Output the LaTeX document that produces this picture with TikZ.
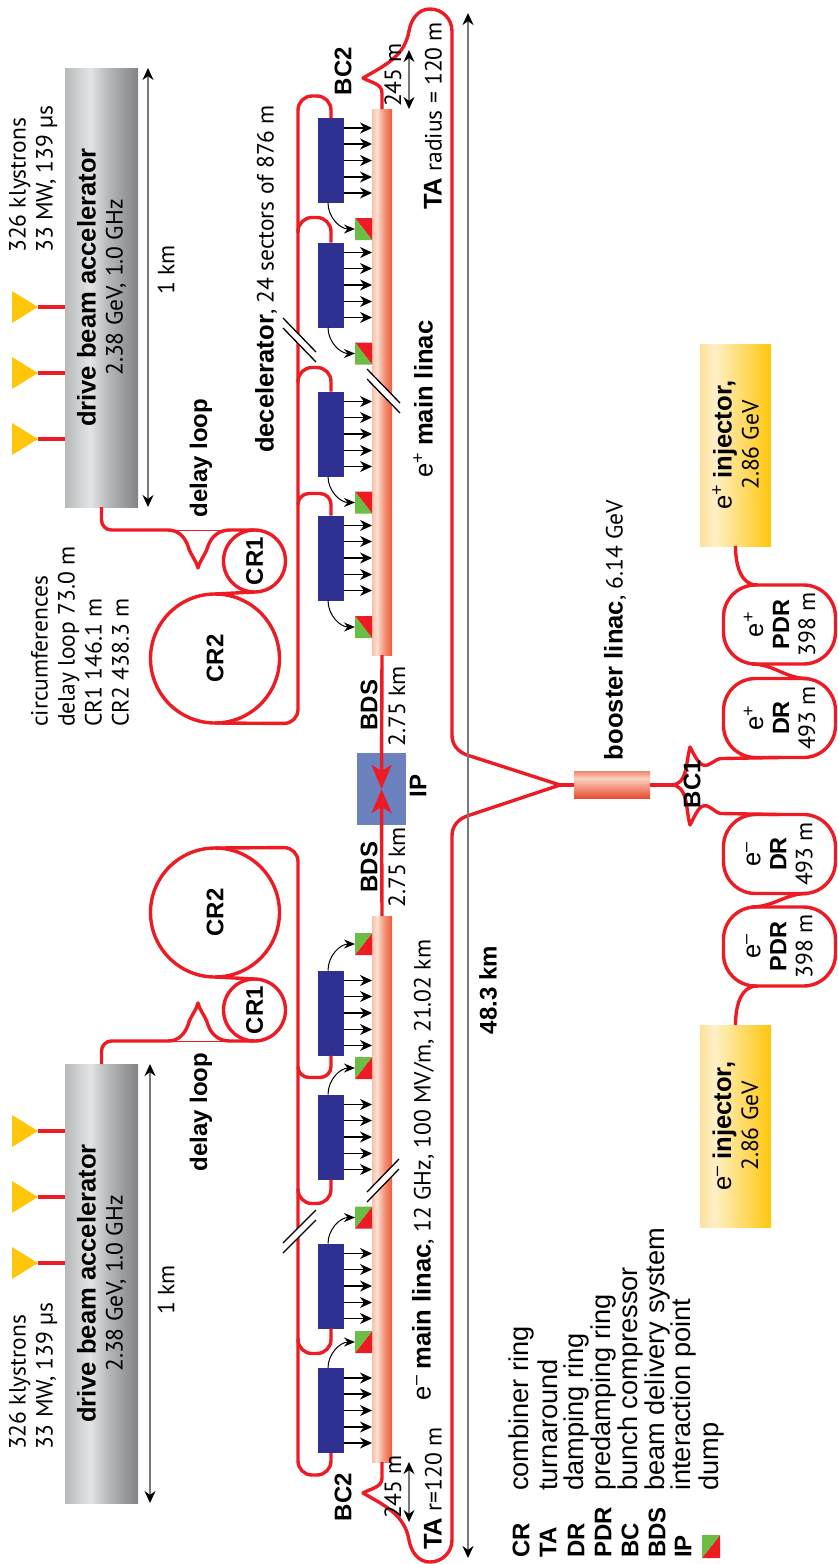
\documentclass[tikz,border=0pt]{standalone}
\usepackage{fontspec}
\setmainfont{PT Sans}
\newfontfamily\lblfont{Liberation Sans}
\usepackage{xcolor}
\usepackage{tikz}
\usetikzlibrary{
  shapes.geometric,
  arrows.meta
}
\definecolor{beamred}{RGB}{237, 28, 36}
\definecolor{pets}{RGB}{46, 49, 146}
\definecolor{dumpgreen}{RGB}{106, 189, 69}
\definecolor{klygold}{RGB}{255, 198, 11}
\definecolor{ipblue}{RGB}{108, 130, 191}
\definecolor{dimgray}{RGB}{120, 120, 122}
\definecolor{dbL}{RGB}{184, 185, 187}
\definecolor{dbM}{RGB}{226, 228, 230}
\definecolor{dbN}{RGB}{180, 182, 184}
\definecolor{dbR}{RGB}{128, 130, 133}
\definecolor{injL}{RGB}{251, 226, 154}
\definecolor{injM}{RGB}{255, 240, 200}
\definecolor{injR}{RGB}{255, 198, 11}
\definecolor{rodL}{RGB}{249, 191, 168}
\definecolor{rodM}{RGB}{253, 225, 213}
\definecolor{rodN}{RGB}{244, 149, 122}
\definecolor{rodR}{RGB}{238, 90, 58}
\definecolor{bstT}{RGB}{240, 138, 112}
\definecolor{bstM}{RGB}{251, 208, 192}
\definecolor{bstB}{RGB}{232, 73, 47}
\pgfdeclarehorizontalshading{driveshade}{100bp}{color(0bp)=(dbL); color(25bp)=(dbL); color(42bp)=(dbM);
  color(55bp)=(dbN); color(75bp)=(dbR); color(100bp)=(dbR)}
\pgfdeclarehorizontalshading{injshade}{100bp}{color(0bp)=(injL); color(25bp)=(injL); color(35bp)=(injM);
  color(75bp)=(injR); color(100bp)=(injR)}
\pgfdeclarehorizontalshading{rodshade}{100bp}{color(0bp)=(rodL); color(25bp)=(rodL); color(37bp)=(rodM);
  color(55bp)=(rodN); color(75bp)=(rodR); color(100bp)=(rodR)}
\pgfdeclareverticalshading{bstshade}{100bp}{color(0bp)=(bstB); color(25bp)=(bstB); color(62bp)=(bstM);
  color(75bp)=(bstT); color(100bp)=(bstT)}
\newcommand{\bflbl}[1]{{\lblfont\bfseries\fontsize{25.6}{27}\selectfont #1}}
\newcommand{\elbl}[1]{{\lblfont\fontsize{25.6}{27}\selectfont e\textsuperscript{#1}}}
\tikzset{
  drivebox/.style = {
    rectangle, rotate=90, shading=driveshade, minimum width=439pt, minimum height=73pt,
    inner sep=0pt, outer sep=0pt, align=center, font=\fontsize{23.5}{27}\selectfont
  },
  injbox/.style = {
    rectangle, rotate=90, shading=injshade, minimum width=202pt, minimum height=71pt,
    inner sep=0pt, outer sep=0pt, align=center, font=\fontsize{23.5}{27}\selectfont
  },
  rodbox/.style = {
    rectangle, rotate=90, shading=rodshade, minimum width=546pt, minimum height=20pt,
    inner sep=0pt, outer sep=0pt
  },
  petsbox/.style = {
    rectangle, fill=pets, minimum width=26pt, minimum height=85pt,
    inner sep=0pt, outer sep=0pt
  },
  dumpbox/.style = {
    rectangle, minimum width=17pt, minimum height=22pt, inner sep=0pt, outer sep=0pt
  },
  ring/.style = {
    circle, rotate=90, draw=beamred, line width=3.4pt, minimum size=#1,
    inner sep=0pt, outer sep=0pt, font=\lblfont\bfseries\fontsize{24}{28}\selectfont
  },
  dampring/.style = {
    rectangle, rotate=90, draw=beamred, line width=3.4pt, rounded corners=32pt,
    minimum width=79pt, minimum height=112pt, inner sep=0pt, outer sep=0pt,
    align=center, font=\fontsize{23.5}{26}\selectfont
  },
  klybox/.style = {
    isosceles triangle, isosceles triangle stretches, fill=klygold, anchor=apex,
    minimum width=32pt, minimum height=26pt, inner sep=0pt, outer sep=0pt
  },
  beam/.style  = {draw=beamred, line width=3.4pt, line join=round},
  beamthin/.style = {draw=beamred, line width=1pt},
  ipbeam/.style = {-{Stealth[length=24pt, width=20pt, inset=6pt]}, draw=beamred, line width=3.4pt},
  rfarr/.style = {-{Stealth[length=12pt, width=11pt]}, draw=black, line width=1.1pt},
  dumparr/.style = {-{Stealth[length=11pt, width=9pt]}, draw=black, line width=1pt},
  dimarr/.style = {{Stealth[length=12pt, width=11pt, black]}-{Stealth[length=12pt, width=11pt, black]},
    draw=dimgray, line width=1.4pt},
  lbl/.style  = {rotate=90, inner sep=0pt, align=center, font=\fontsize{23.5}{27}\selectfont},
  blbl/.style = {rotate=90, inner sep=0pt, align=center, font=\lblfont\bfseries\fontsize{24}{28}\selectfont},
  keytxt/.style = {rotate=90, inner sep=0pt, anchor=west, font=\lblfont\fontsize{27.2}{30}\selectfont},
}

\begin{document}
\begin{tikzpicture}[x=1pt, y=-1pt]
  \useasboundingbox (0,0) rectangle (838,1564);

  %% Drive beam accelerators
  \node[drivebox] (dbaP) at (101.5,287.5)
    {\bflbl{drive beam accelerator}\\2.38 GeV, 1.0 GHz};
  \node[drivebox] (dbaL) at (101.5,1283.5)
    {\bflbl{drive beam accelerator}\\2.38 GeV, 1.0 GHz};
  \node[klybox] (klyPa) at (38,307) {};
  \node[klybox] (klyPb) at (38,373) {};
  \node[klybox] (klyPc) at (38,439) {};
  \node[klybox] (klyLa) at (38,1131) {};
  \node[klybox] (klyLb) at (38,1197) {};
  \node[klybox] (klyLc) at (38,1263) {};
  \foreach \k in {klyPa,klyPb,klyPc,klyLa,klyLb,klyLc}
    \draw[beam] (\k.apex) -- (\k.apex -| dbaP.north);

  %% Main linacs
  \node[rodbox] (linacP) at (382,382) {};
  \node[rodbox] (linacL) at (382,1189) {};
  \node[petsbox] (blkPa) at (331,160.5) {};
  \node[petsbox] (blkPb) at (331,285) {};
  \node[petsbox] (blkPc) at (331,434) {};
  \node[petsbox] (blkPd) at (331,558) {};
  \node[petsbox] (blkLa) at (331,1013) {};
  \node[petsbox] (blkLb) at (331,1137) {};
  \node[petsbox] (blkLc) at (331,1286) {};
  \node[petsbox] (blkLd) at (331,1410.5) {};
  \node[dumpbox] (dmpPa) at (363.5,229) {};
  \node[dumpbox] (dmpPb) at (363.5,353.5) {};
  \node[dumpbox] (dmpPc) at (363.5,502.5) {};
  \node[dumpbox] (dmpPd) at (363.5,627) {};
  \node[dumpbox] (dmpLa) at (363.5,944) {};
  \node[dumpbox] (dmpLb) at (363.5,1068) {};
  \node[dumpbox] (dmpLc) at (363.5,1217.5) {};
  \node[dumpbox] (dmpLd) at (363.5,1342) {};
  \node[dumpbox, minimum width=18pt, minimum height=23pt] (dmpKey) at (711,1546.5) {};
  \foreach \d in {dmpPa,dmpPb,dmpPc,dmpPd} {
    \fill[beamred] (\d.north west) -- (\d.north east) -- (\d.south east) -- cycle;
    \fill[dumpgreen] (\d.north west) -- (\d.south west) -- (\d.south east) -- cycle;
  }
  \foreach \d in {dmpLa,dmpLb,dmpLc,dmpLd,dmpKey} {
    \fill[beamred] (\d.south west) -- (\d.north east) -- (\d.south east) -- cycle;
    \fill[dumpgreen] (\d.south west) -- (\d.north east) -- (\d.north west) -- cycle;
  }
  \foreach \b in {blkPa,blkPb,blkPc,blkPd,blkLa,blkLb,blkLc,blkLd}
    \foreach \s in {-32.5,-16.5,0,16.5,32.5}
      \draw[rfarr] ([yshift=\s pt]\b.east) -- ([yshift=\s pt]\b.east -| linacP.north);
  \draw[dumparr] ([xshift=-3pt]blkPa.south) to[out=-90,in=180] (dmpPa.west);
  \draw[dumparr] ([xshift=-3pt]blkPb.south) to[out=-90,in=180] (dmpPb.west);
  \draw[dumparr] ([xshift=-3pt]blkPc.south) to[out=-90,in=180] (dmpPc.west);
  \draw[dumparr] ([xshift=-3pt]blkPd.south) to[out=-90,in=180] (dmpPd.west);
  \draw[dumparr] ([xshift=-3pt]blkLa.north) to[out=90,in=180] (dmpLa.west);
  \draw[dumparr] ([xshift=-3pt]blkLb.north) to[out=90,in=180] (dmpLb.west);
  \draw[dumparr] ([xshift=-3pt]blkLc.north) to[out=90,in=180] (dmpLc.west);
  \draw[dumparr] ([xshift=-3pt]blkLd.north) to[out=90,in=180] (dmpLd.west);

  %% Combiner rings
  \node[ring=129pt] (cr2P) at (215,658.5) {CR2};
  \node[ring=62pt] (cr1P) at (254.5,561) {CR1};
  \node[ring=129pt] (cr2L) at (215,912.5) {CR2};
  \node[ring=62pt] (cr1L) at (254.5,1010) {CR1};
  \draw[beam] (cr2P.east) -- (cr1P.west);
  \draw[beam] (cr2L.west) -- (cr1L.east);

  \coordinate (dlPa) at (168,530);
  \coordinate (dlPb) at (188,546);
  \coordinate (dlPc) at (198,568);
  \coordinate (dlPd) at (208,546);
  \coordinate (dlPe) at (230,530);
  \coordinate (dlLa) at (168,1041);
  \coordinate (dlLb) at (188,1025);
  \coordinate (dlLc) at (198,1003);
  \coordinate (dlLd) at (208,1025);
  \coordinate (dlLe) at (230,1041);
  \draw[beam, rounded corners=10pt] (dbaP.west) |- (dlPa);
  \draw[beam] (dlPa) to[out=0,in=110] (dlPb) to[out=-75,in=105] (dlPc)
    to[out=75,in=-105] (dlPd) to[out=70,in=180] (dlPe) -- (cr1P.east);
  \draw[beamthin] (dlPa) -- (dlPe);
  \draw[beam, rounded corners=10pt] (dbaL.east) |- (dlLa);
  \draw[beam] (dlLa) to[out=0,in=250] (dlLb) to[out=75,in=-105] (dlLc)
    to[out=-75,in=105] (dlLd) to[out=-70,in=180] (dlLe) -- (cr1L.west);
  \draw[beamthin] (dlLa) -- (dlLe);

  %% Drive beam lines along the decelerators
  \coordinate (drvP) at (298,723.5);
  \coordinate (drvL) at (298,847.5);
  \draw[beam, rounded corners=14pt] (cr2P.west) -- (drvP) -- (298,96) -- (331,96) -- (blkPa.north);
  \draw[beam, rounded corners=14pt] (blkPb.north) -- ++(0,-25) -- ++(-33,0) -- ++(0,15);
  \draw[beam, rounded corners=14pt] (blkPc.north) -- ++(0,-24) -- ++(-33,0) -- ++(0,15);
  \draw[beam, rounded corners=11pt] (blkPd.north) -- ++(0,-22) -- ++(-33,0) -- ++(0,11);
  \draw[beam, rounded corners=14pt] (cr2L.east) -- (drvL) -- (298,1475) -- (331,1475) -- (blkLd.south);
  \draw[beam, rounded corners=11pt] (blkLa.south) -- ++(0,22) -- ++(-33,0) -- ++(0,-11);
  \draw[beam, rounded corners=14pt] (blkLb.south) -- ++(0,24) -- ++(-33,0) -- ++(0,-15);
  \draw[beam, rounded corners=14pt] (blkLc.south) -- ++(0,25) -- ++(-33,0) -- ++(0,-15);

  %% Interaction point
  \node[rectangle, fill=ipblue, minimum width=49pt, minimum height=72pt, inner sep=0pt] (ip) at (381.5,789) {};
  \draw[ipbeam] (linacP.west) -- (ip.center);
  \draw[ipbeam] (linacL.east) -- (ip.center);

  %% Booster and damping rings
  \node[rectangle, shading=bstshade, minimum width=76pt, minimum height=27pt,
        inner sep=0pt, outer sep=0pt] (bst) at (612,785) {};
  \node[dampring] (drP) at (779.5,718) {\elbl{+}\\{\lblfont\bfseries DR}\\493 m};
  \node[dampring] (pdrP) at (779.5,624.5) {\elbl{+}\\{\lblfont\bfseries PDR}\\398 m};
  \node[dampring] (drL) at (779.5,854) {\elbl{–}\\{\lblfont\bfseries DR}\\493 m};
  \node[dampring] (pdrL) at (779.5,946.5) {\elbl{–}\\{\lblfont\bfseries PDR}\\398 m};
  \node[injbox] (injP) at (735.5,445)
    {\elbl{+} \bflbl{injector,}\\2.86 GeV};
  \node[injbox] (injL) at (735.5,1126)
    {\elbl{–} \bflbl{injector,}\\2.86 GeV};
  \draw[beam] ([xshift=-28pt]pdrP.west) to[out=0,in=180] ([xshift=28pt]drP.east);
  \draw[beam] ([xshift=-28pt]pdrL.east) to[out=0,in=180] ([xshift=28pt]drL.west);
  \draw[beam] (injP.west) to[out=-90,in=180] ([xshift=-22pt]pdrP.east);
  \draw[beam] (injL.east) to[out=90,in=180] ([xshift=-22pt]pdrL.west);

  \coordinate (bcC) at (671,785);
  \coordinate (bcPa) at (690,747);
  \coordinate (bcPb) at (703,765);
  \coordinate (bcPc) at (722,758.5);
  \coordinate (bcLa) at (690,825);
  \coordinate (bcLb) at (703,806);
  \coordinate (bcLc) at (722,813.5);
  \draw[beam] (bst.east) -- (bcC);
  \draw[beam] (bcC) to[out=0,in=-105] (bcPa) to[out=-60,in=165,looseness=0.6] (bcPb)
    to[out=-15,in=180] (bcPc) -- (drP.west);
  \draw[beam] (bcC) to[out=0,in=105] (bcLa) to[out=60,in=195,looseness=0.6] (bcLb)
    to[out=15,in=180] (bcLc) -- (drL.east);

  %% Main beam turnarounds
  \coordinate (bstIn) at (560,785);
  \coordinate (taPa) at (382,93);
  \coordinate (taPb) at (363,78);
  \coordinate (taPc) at (409,31);
  \coordinate (taPd) at (430,9);
  \coordinate (taPe) at (452,31);
  \coordinate (taPf) at (452,735);
  \coordinate (taPg) at (467,755);
  \coordinate (taLa) at (382,1478);
  \coordinate (taLb) at (363,1493);
  \coordinate (taLc) at (409,1540);
  \coordinate (taLd) at (430,1562);
  \coordinate (taLe) at (452,1540);
  \coordinate (taLf) at (452,836);
  \coordinate (taLg) at (467,816);
  \draw[beam] (bstIn) -- (bst.west);
  \draw[beam] (linacP.east) -- (taPa) to[out=90,in=-30] (taPb) to[out=30,in=-100] (taPc)
    to[out=80,in=180] (taPd) to[out=0,in=90] (taPe) -- (taPf) to[out=-90,in=160] (taPg) -- (bstIn);
  \draw[beam] (linacL.west) -- (taLa) to[out=-90,in=30] (taLb) to[out=-30,in=100] (taLc)
    to[out=-80,in=180] (taLd) to[out=0,in=-90] (taLe) -- (taLf) to[out=90,in=200] (taLg) -- (bstIn);

  %% Breaks in the lines
  \foreach \xa/\ya/\xb/\yb in {283/318/316/352, 367/369/400/403, 283/1243/316/1210, 367/1192/399/1159} {
    \fill[white] (\xa,\ya) -- (\xb,\yb) -- (\xb,\yb+10) -- (\xa,\ya+10) -- cycle;
    \draw[line width=1.3pt] (\xa,\ya) -- (\xb,\yb);
    \draw[line width=1.3pt] (\xa,\ya+10) -- (\xb,\yb+10);
  }

  %% Dimension arrows
  \coordinate (kmPa) at (148,68);
  \coordinate (kmPb) at (148,507);
  \coordinate (kmLa) at (150,1064);
  \coordinate (kmLb) at (150,1503);
  \coordinate (smPa) at (409,50);
  \coordinate (smPb) at (409,109);
  \coordinate (smLa) at (409,1462);
  \coordinate (smLb) at (409,1522);
  \coordinate (totA) at (468,13);
  \coordinate (totB) at (468,1558);
  \draw[dimarr] (kmPa) -- (kmPb);
  \draw[dimarr] (kmLa) -- (kmLb);
  \draw[dimarr] (smPa) -- (smPb);
  \draw[dimarr] (smLa) -- (smLb);
  \draw[dimarr, line width=2pt] (totA) -- (totB);

  %% Labels
  \node[lbl, anchor=west, align=left] (klyTxtP) at (33,253) {326 klystrons\\33 MW, 139 µs};
  \node[lbl, anchor=west, align=left] (klyTxtL) at (33,1450) {326 klystrons\\33 MW, 139 µs};
  \node[lbl] (kmTxtP) at (166,270) {1 km};
  \node[lbl] (kmTxtL) at (166,1290) {1 km};
  \node[blbl] (dlTxtP) at (201,458) {delay loop};
  \node[blbl] (dlTxtL) at (201,1112) {delay loop};
  \node[lbl, anchor=west, align=left] (circTxt) at (80,727)
    {circumferences\\delay loop 73.0 m\\CR1 146.1 m\\CR2 438.3 m};
  \node[lbl] (decTxt) at (266,279) {\bflbl{decelerator}, 24 sectors of 876 m};
  \node[lbl] (posTxt) at (423,399) {\elbl{+} \bflbl{main linac}};
  \node[lbl] (eleTxt) at (423,1170) {\elbl{–} \bflbl{main linac}, 12 GHz, 100 MV/m, 21.02 km};
  \node[lbl, anchor=west] (taTxtP) at (433,210) {\bflbl{TA} radius = 120 m};
  \node[lbl, anchor=west] (taTxtL) at (433,1550) {\bflbl{TA} r=120 m};
  \node[blbl] (bc2P) at (343,71) {BC2};
  \node[blbl] (bc2L) at (343,1497) {BC2};
  \node[lbl] (smTxtP) at (393,75) {245 m};
  \node[lbl] (smTxtL) at (393,1487) {245 m};
  \node[blbl] (bdsP) at (369,705) {BDS};
  \node[blbl] (bdsL) at (369,867) {BDS};
  \node[lbl] (kmBdsP) at (397,706) {2.75 km};
  \node[lbl] (kmBdsL) at (397,867) {2.75 km};
  \node[blbl] (ipTxt) at (418,786) {IP};
  \node[blbl] (totTxt) at (488,990) {48.3 km};
  \node[lbl] (bstTxt) at (615,630) {\bflbl{booster linac}, 6.14 GeV};
  \node[blbl] (bc1) at (692,784) {BC1};

  %% Legend
  \node[blbl, anchor=west] (keyCR) at (521,1558) {CR};
  \node[blbl, anchor=west] (keyTA) at (548,1558) {TA};
  \node[blbl, anchor=west] (keyDR) at (576,1558) {DR};
  \node[blbl, anchor=west] (keyPDR) at (603,1558) {PDR};
  \node[blbl, anchor=west] (keyBC) at (630,1558) {BC};
  \node[blbl, anchor=west] (keyBDS) at (657,1558) {BDS};
  \node[blbl, anchor=west] (keyIP) at (683,1558) {IP};
  \node[keytxt] (txtCR) at (521,1491) {combiner ring};
  \node[keytxt] (txtTA) at (548,1491) {turnaround};
  \node[keytxt] (txtDR) at (576,1491) {damping ring};
  \node[keytxt] (txtPDR) at (603,1491) {predamping ring};
  \node[keytxt] (txtBC) at (630,1491) {bunch compressor};
  \node[keytxt] (txtBDS) at (657,1491) {beam delivery system};
  \node[keytxt] (txtIP) at (683,1491) {interaction point};
  \node[keytxt] (txtDump) at (711,1491) {dump};

\end{tikzpicture}
\end{document}
